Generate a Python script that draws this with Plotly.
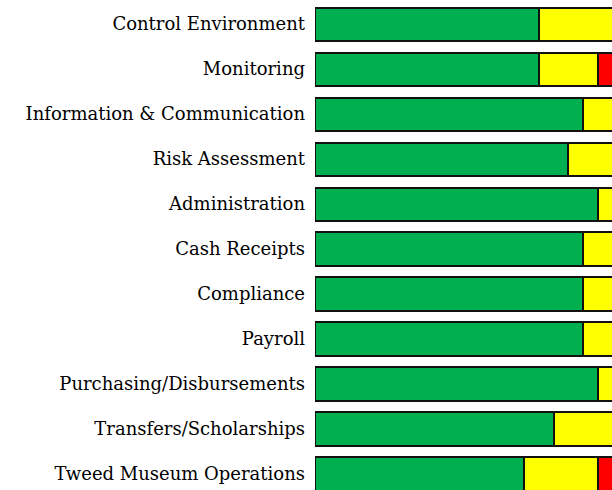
import plotly.graph_objects as go

categories = [
    "Control Environment",
    "Monitoring",
    "Information & Communication",
    "Risk Assessment",
    "Administration",
    "Cash Receipts",
    "Compliance",
    "Payroll",
    "Purchasing/Disbursements",
    "Transfers/Scholarships",
    "Tweed Museum Operations",
]
green_vals = [75, 75, 90, 85, 95, 90, 90, 90, 95, 80, 70]
yellow_vals = [25, 20, 10, 15, 5, 10, 10, 10, 5, 20, 25]
red_vals = [0, 5, 0, 0, 0, 0, 0, 0, 0, 0, 5]

series = [
    ("Green", green_vals, "#00B050"),
    ("Yellow", yellow_vals, "#FFFF00"),
    ("Red", red_vals, "#FF0000"),
]

fig = go.Figure()
for name, vals, color in series:
    fig.add_trace(go.Bar(
        y=categories, x=vals, name=name, orientation="h",
        marker=dict(color=color, line=dict(color="#111111", width=2)),
        hoverinfo="skip",
    ))

fig.update_layout(
    barmode="stack",
    bargap=0.265,
    width=612, height=490,
    margin=dict(l=315, r=0, t=0, b=0),
    plot_bgcolor="white", paper_bgcolor="white",
    showlegend=False,
    font=dict(family="DejaVu Serif", size=18, color="#000000"),
    xaxis=dict(range=[0, 99.6], showgrid=False, zeroline=False,
               showticklabels=False, showline=False, ticks=""),
    yaxis=dict(range=[10.356, -0.535], showgrid=False, zeroline=False,
               showline=False, ticks="", ticklabelstandoff=9),
)

fig.write_html(
    "out.html",
    config={"displayModeBar": False},
    post_script="document.body.style.margin='0';document.body.style.overflow='hidden';",
)
